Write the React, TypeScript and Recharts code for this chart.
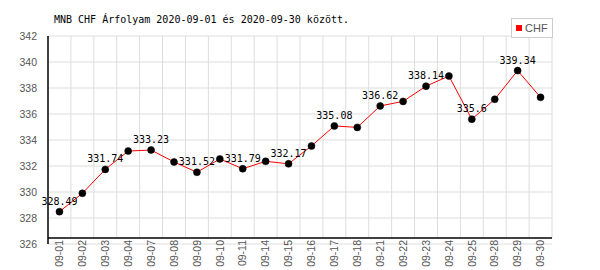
import React from "react";
import {
  CartesianGrid,
  LabelList,
  Legend,
  Line,
  LineChart,
  ReferenceLine,
  XAxis,
  YAxis,
} from "recharts";

const dates = [
  "09-01", "09-02", "09-03", "09-04", "09-07", "09-08", "09-09", "09-10", "09-11", "09-14", "09-15",
  "09-16", "09-17", "09-18", "09-21", "09-22", "09-23", "09-24", "09-25", "09-28", "09-29", "09-30",
];
const chfRates = [
  328.49, 329.9, 331.74, 333.15, 333.23, 332.31, 331.52, 332.54, 331.79, 332.36, 332.17,
  333.54, 335.08, 334.97, 336.62, 336.97, 338.14, 338.92, 335.6, 337.13, 339.34, 337.28,
];
const yTicks = [326, 328, 330, 332, 334, 336, 338, 340, 342];

const rows = dates.map((d, i) => ({ d, chf: chfRates[i] }));

const MONO = "'DejaVu Sans Mono', monospace";
const SANS = "'Liberation Sans', Arial, sans-serif";

// half a category on each side so the points sit in the middle of their grid cells
const HALF_STEP = 504 / dates.length / 2;

function DateTick(props: any) {
  const { x, y, payload } = props;
  const ty = y - 4;
  return (
    <text
      x={x}
      y={ty}
      dy="0.36em"
      transform={`rotate(-90 ${x} ${ty})`}
      textAnchor="end"
      fill="#555"
      fontSize={10.5}
      fontFamily={SANS}
    >
      {payload.value}
    </text>
  );
}

function PointLabel(props: any) {
  const { x, y, value, index } = props;
  if (index % 2 !== 0) return null;
  return (
    <text x={x} y={y - 7} textAnchor="middle" fill="#000" fontSize={10} fontFamily={MONO}>
      {value}
    </text>
  );
}

function LegendBox() {
  return (
    <div
      style={{
        width: 40,
        height: 18,
        border: "1px solid #ccc",
        background: "#fff",
        display: "flex",
        alignItems: "center",
        fontFamily: SANS,
        fontSize: 11,
        color: "#555",
      }}
    >
      <span style={{ width: 6, height: 6, background: "#f00", marginLeft: 4, marginRight: 3 }} />
      CHF
    </div>
  );
}

export default function App() {
  return (
    <div style={{ position: "absolute", left: 0, top: 0, width: 600, height: 270, background: "#fff" }}>
      <div
        style={{
          position: "absolute",
          left: 54,
          top: 14,
          fontFamily: MONO,
          fontSize: 10,
          lineHeight: "12px",
          color: "#000",
          whiteSpace: "nowrap",
        }}
      >
        MNB CHF Árfolyam 2020-09-01 és 2020-09-30 között.
      </div>
      <LineChart width={600} height={270} data={rows} margin={{ top: 36, right: 48, bottom: 0, left: 0 }}>
        <CartesianGrid stroke="#ddd" vertical={false} />
        <CartesianGrid
          stroke="#ddd"
          horizontal={false}
          y={36}
          height={202}
          verticalCoordinatesGenerator={({ offset }: any) => {
            const step = offset.width / dates.length;
            return dates.map((_, i) => offset.left + (i + 1) * step);
          }}
        />
        <XAxis
          dataKey="d"
          height={26}
          interval={0}
          padding={{ left: HALF_STEP, right: HALF_STEP }}
          axisLine={false}
          tickLine={false}
          tickSize={0}
          tickMargin={0}
          tick={<DateTick />}
        />
        <YAxis
          width={48}
          domain={[326, 342]}
          ticks={yTicks}
          interval={0}
          axisLine={{ stroke: "#000", strokeWidth: 1.5 }}
          tickLine={false}
          tickMargin={5}
          tick={{ fill: "#555", fontSize: 10.5, fontFamily: SANS }}
        />
        <ReferenceLine y={326.46} stroke="#000" strokeWidth={1.5} />
        <Legend
          verticalAlign="middle"
          align="center"
          layout="horizontal"
          content={() => <LegendBox />}
          wrapperStyle={{ position: "absolute", left: 511, top: 18, width: 42 }}
        />
        <Line
          type="linear"
          dataKey="chf"
          name="CHF"
          stroke="#f00"
          strokeWidth={1}
          dot={{ r: 3.5, fill: "#000", stroke: "#000", strokeWidth: 0.5 }}
          activeDot={false}
          isAnimationActive={false}
        >
          <LabelList dataKey="chf" content={<PointLabel />} />
        </Line>
      </LineChart>
    </div>
  );
}
